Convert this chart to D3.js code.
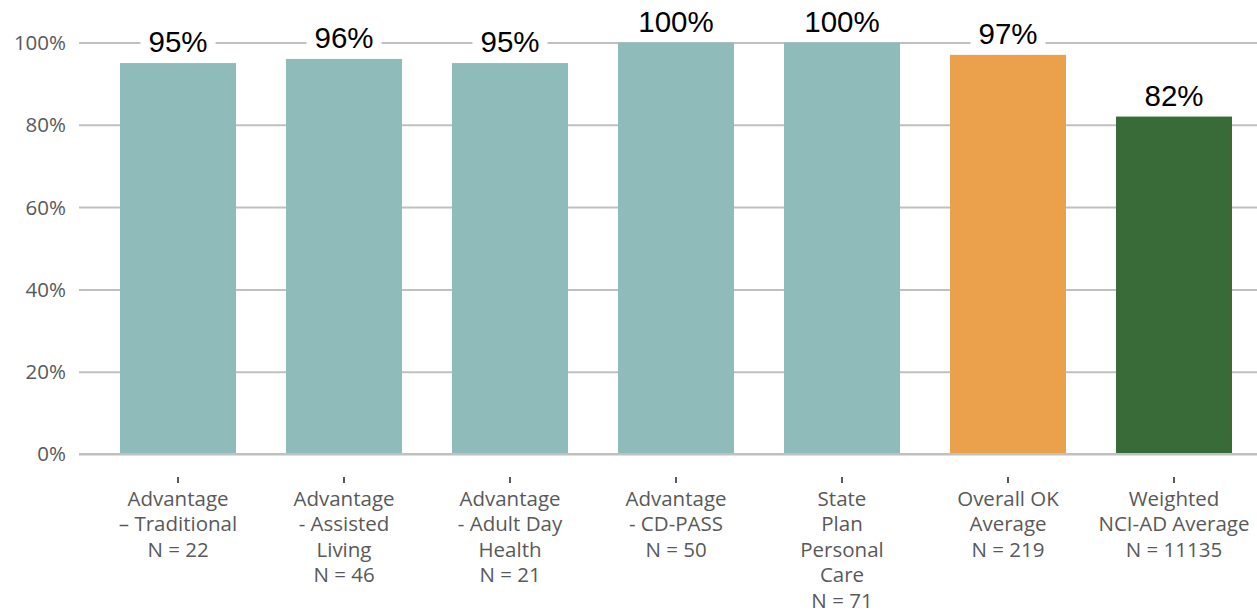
<!DOCTYPE html>
<html>
<head>
<meta charset="utf-8">
<script src="https://cdn.jsdelivr.net/npm/d3@7"></script>
<style>
  html, body { margin: 0; padding: 0; background: #ffffff; }
  svg { display: block; }
</style>
</head>
<body>
<svg id="chart" width="1257" height="614"></svg>
<script>
// Program groups, each with its sample size
const categories = [
  ["Advantage", "– Traditional", "N = 22"],
  ["Advantage", "- Assisted", "Living", "N = 46"],
  ["Advantage", "- Adult Day", "Health", "N = 21"],
  ["Advantage", "- CD-PASS", "N = 50"],
  ["State", "Plan", "Personal", "Care", "N = 71"],
  ["Overall OK", "Average", "N = 219"],
  ["Weighted", "NCI-AD Average", "N = 11135"]
];
// Percentage of respondents in each group
const values = [95, 96, 95, 100, 100, 97, 82];
const barColors = ["#8fbcbb", "#8fbcbb", "#8fbcbb", "#8fbcbb", "#8fbcbb", "#eba04b", "#386b37"];
const yTicks = [0, 20, 40, 60, 80, 100];

const W = 1257, H = 614;
const plotLeft = 79, plotTop = 42.5, plotBottom = 454;

const svg = d3.select("#chart");

const x = d3.scaleBand()
  .domain(d3.range(values.length))
  .range([plotLeft, 1273])
  .paddingInner(0.3012)
  .paddingOuter(0.247);

const y = d3.scaleLinear().domain([0, 100]).range([plotBottom, plotTop]);

// Horizontal gridlines and the percentage axis
const yAxis = d3.axisLeft(y)
  .tickValues(yTicks)
  .tickSize(-(W - plotLeft))
  .tickPadding(13)
  .tickFormat(d => d + "%");

const gy = svg.append("g")
  .attr("transform", `translate(${plotLeft},0)`)
  .call(yAxis);
gy.select(".domain").remove();
gy.selectAll(".tick line")
  .attr("stroke", "#c0c0c0")
  .attr("stroke-width", 2);
gy.selectAll(".tick text")
  .attr("fill", "#595959")
  .style("font-family", "'Open Sans', sans-serif")
  .style("font-size", "20.5px")
  .attr("dy", "0.34em");

// Bars
svg.append("g")
  .selectAll("rect")
  .data(values)
  .join("rect")
  .attr("x", (d, i) => x(i))
  .attr("y", d => y(d))
  .attr("width", x.bandwidth())
  .attr("height", d => y(0) - y(d))
  .attr("fill", (d, i) => barColors[i]);

// Baseline drawn over the bars
svg.append("line")
  .attr("x1", plotLeft).attr("x2", W)
  .attr("y1", y(0)).attr("y2", y(0))
  .attr("stroke", "#c0c0c0")
  .attr("stroke-width", 2);

// Value labels with a white backing that breaks the gridline
const labels = svg.append("g")
  .selectAll("g")
  .data(values)
  .join("g")
  .attr("transform", (d, i) => `translate(${x(i) + x.bandwidth() / 2},${y(d) - 11})`);

labels.each(function(d) {
  const g = d3.select(this);
  const t = g.append("text")
    .attr("text-anchor", "middle")
    .attr("fill", "#000000")
    .style("font-family", "'Liberation Sans', Arial, sans-serif")
    .style("font-size", "29.5px")
    .text(d + "%");
  const bb = t.node().getBBox();
  g.insert("rect", "text")
    .attr("x", bb.x - 8)
    .attr("y", -23)
    .attr("width", bb.width + 16)
    .attr("height", 29)
    .attr("fill", "#ffffff");
});

// Category ticks and multi-line labels
const cats = svg.append("g")
  .selectAll("g")
  .data(categories)
  .join("g")
  .attr("transform", (d, i) => `translate(${x(i) + x.bandwidth() / 2},0)`);

cats.append("line")
  .attr("y1", 477).attr("y2", 483)
  .attr("stroke", "#595959")
  .attr("stroke-width", 2);

cats.append("text")
  .attr("text-anchor", "middle")
  .attr("fill", "#595959")
  .style("font-family", "'Open Sans', sans-serif")
  .style("font-size", "20.5px")
  .selectAll("tspan")
  .data(d => d)
  .join("tspan")
  .attr("x", 0)
  .attr("y", (d, j) => 505.5 + j * 25.5)
  .text(d => d);
</script>
</body>
</html>
